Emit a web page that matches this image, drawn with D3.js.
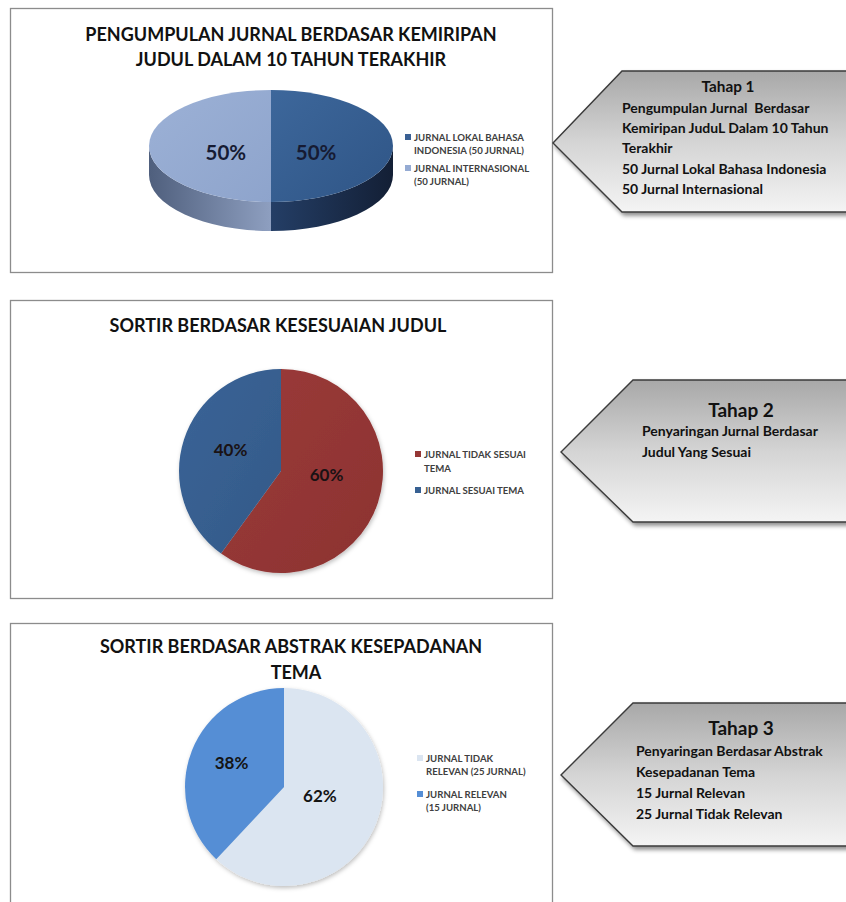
<!DOCTYPE html>
<html><head><meta charset="utf-8">
<script src="https://cdn.jsdelivr.net/npm/d3@7"></script>
<style>body{margin:0;background:#fff} svg{display:block} text{font-family:Lato,'Open Sans',sans-serif;font-weight:700}</style>
</head><body><svg id="c" width="846" height="902"></svg>
<script>
// ---------- data ----------
const chart1Title = ["PENGUMPULAN JURNAL BERDASAR KEMIRIPAN", "JUDUL DALAM 10 TAHUN TERAKHIR"];
const chart1Categories = ["JURNAL LOKAL BAHASA INDONESIA (50 JURNAL)", "JURNAL INTERNASIONAL (50 JURNAL)"];
const chart1Legend = [["JURNAL LOKAL BAHASA", "INDONESIA (50 JURNAL)"], ["JURNAL INTERNASIONAL", "(50 JURNAL)"]];
const chart1Values = [50, 50];

const chart2Title = ["SORTIR BERDASAR KESESUAIAN JUDUL"];
const chart2Categories = ["JURNAL TIDAK SESUAI TEMA", "JURNAL SESUAI TEMA"];
const chart2Legend = [["JURNAL TIDAK SESUAI", "TEMA"], ["JURNAL SESUAI TEMA"]];
const chart2Values = [60, 40];

const chart3Title = ["SORTIR BERDASAR ABSTRAK KESEPADANAN", "TEMA"];
const chart3Categories = ["JURNAL TIDAK RELEVAN (25 JURNAL)", "JURNAL RELEVAN (15 JURNAL)"];
const chart3Legend = [["JURNAL TIDAK", "RELEVAN (25 JURNAL)"], ["JURNAL RELEVAN", "(15 JURNAL)"]];
const chart3Values = [62, 38];

const tahap1Title = "Tahap 1";
const tahap1Lines = ["Pengumpulan Jurnal  Berdasar", "Kemiripan JuduL Dalam 10 Tahun", "Terakhir", "50 Jurnal Lokal Bahasa Indonesia", "50 Jurnal Internasional"];
const tahap2Title = "Tahap 2";
const tahap2Lines = ["Penyaringan Jurnal Berdasar", "Judul Yang Sesuai"];
const tahap3Title = "Tahap 3";
const tahap3Lines = ["Penyaringan Berdasar Abstrak", "Kesepadanan Tema", "15 Jurnal Relevan", "25 Jurnal Tidak Relevan"];

// ---------- drawing ----------
const svg = d3.select("#c");
const defs = svg.append("defs");

function linGrad(id, x1, y1, x2, y2, stops, user) {
  const g = defs.append("linearGradient").attr("id", id)
    .attr("x1", x1).attr("y1", y1).attr("x2", x2).attr("y2", y2);
  if (user) g.attr("gradientUnits", "userSpaceOnUse");
  stops.forEach(s => g.append("stop").attr("offset", s[0]).attr("stop-color", s[1]));
}
const sh = defs.append("filter").attr("id", "shadow").attr("x", "-10%").attr("y", "-10%").attr("width", "130%").attr("height", "130%");
sh.append("feDropShadow").attr("dx", 2).attr("dy", 3).attr("stdDeviation", 2).attr("flood-color", "#000").attr("flood-opacity", 0.45);
const sh2 = defs.append("filter").attr("id", "pshadow").attr("x", "-10%").attr("y", "-10%").attr("width", "130%").attr("height", "130%");
sh2.append("feDropShadow").attr("dx", 1).attr("dy", 2).attr("stdDeviation", 2).attr("flood-color", "#000").attr("flood-opacity", 0.25);

function frame(x, y, w, h) {
  svg.append("rect").attr("x", x + 0.5).attr("y", y + 0.5).attr("width", w).attr("height", h)
    .attr("fill", "#fff").attr("stroke", "#8c8c8c").attr("stroke-width", 1.3);
}
function title(lines, cx, y0, dy, size) {
  svg.append("g").selectAll("text").data(lines).join("text")
    .attr("x", (d, i) => cx[i]).attr("y", (d, i) => y0 + i * dy)
    .attr("text-anchor", "middle").attr("font-size", size).attr("fill", "#111")
    .text(d => d);
}
function legend(lines, colors, x, ys, lh) {
  const g = svg.append("g");
  const item = g.selectAll("g").data(lines).join("g").attr("transform", (d, i) => `translate(${x},${ys[i]})`);
  item.append("rect").attr("x", 0).attr("y", -7).attr("width", 6).attr("height", 6).attr("fill", (d, i) => colors[i]);
  item.selectAll("text").data(d => d).join("text")
    .attr("x", 9).attr("y", (d, j) => j * lh).attr("font-size", 9.6).attr("fill", "#404040")
    .text(d => d);
}

// chart 1 : 3D pie
frame(10, 8, 542, 264);
title(chart1Title, [291, 291], 41, 25, 18);
(function () {
  const cx = 271, cy = 146, rx = 122, ry = 56, depth = 29;
  const topColors = ["url(#c1a)", "url(#c1b)"];
  const sideColors = ["url(#s1a)", "url(#s1b)"];
  linGrad("c1a", 0, 0, 1, 1, [[0, "#3d679b"], [1, "#2f5586"]]);
  linGrad("c1b", 0, 0, 1, 1, [[0, "#9cb1d6"], [1, "#8ea4cc"]]);
  linGrad("s1a", cx, 0, cx + rx, 0, [[0, "#243e66"], [1, "#131f35"]], true);
  linGrad("s1b", cx - rx, 0, cx, 0, [[0, "#4f5f7d"], [1, "#8e9fc0"]], true);
  const arcs = d3.pie().sort(null).value(d => d)(chart1Values);
  const P = (t, off = 0) => [cx + rx * Math.sin(t), cy - ry * Math.cos(t) + off];
  const g = svg.append("g");
  arcs.forEach((a, i) => {
    const s0 = Math.max(a.startAngle, Math.PI / 2), s1 = Math.min(a.endAngle, 3 * Math.PI / 2);
    if (s0 < s1) {
      const p0 = P(s0), p1 = P(s1), q1 = P(s1, depth), q0 = P(s0, depth);
      g.append("path").attr("fill", sideColors[i])
        .attr("d", `M${p0}A${rx},${ry} 0 0 1 ${p1}L${q1}A${rx},${ry} 0 0 0 ${q0}Z`);
    }
  });
  arcs.forEach((a, i) => {
    const p0 = P(a.startAngle), p1 = P(a.endAngle);
    const large = a.endAngle - a.startAngle > Math.PI ? 1 : 0;
    g.append("path").attr("fill", topColors[i])
      .attr("d", `M${cx},${cy}L${p0}A${rx},${ry} 0 ${large} 1 ${p1}Z`);
  });
  arcs.forEach(a => {
    const m = (a.startAngle + a.endAngle) / 2;
    const p = [cx + rx * 0.37 * Math.sin(m), cy - ry * 0.37 * Math.cos(m) + 14];
    g.append("text").attr("x", p[0]).attr("y", p[1]).attr("text-anchor", "middle")
      .attr("font-size", 20.5).attr("fill", "#161b33").text(Math.round(a.value) + "%");
  });
  legend(chart1Legend, ["#3a6094", "#95abd3"], 405, [141, 172], 12.5);
})();

// flat pie (label placement factors kx, ky per slice, as Excel positions them)
function flatPie(values, colors, cx, cy, r, kx, ky, labelColor) {
  const arcs = d3.pie().sort(null).value(d => d)(values);
  const arc = d3.arc().innerRadius(0).outerRadius(r);
  const g = svg.append("g").attr("transform", `translate(${cx},${cy})`).attr("filter", "url(#pshadow)");
  g.selectAll("path").data(arcs).join("path").attr("d", arc).attr("fill", (d, i) => colors[i]);
  svg.append("g").attr("transform", `translate(${cx},${cy})`).selectAll("text").data(arcs).join("text")
    .attr("x", (d, i) => { const m = (d.startAngle + d.endAngle) / 2; return kx[i] * r * Math.sin(m); })
    .attr("y", (d, i) => { const m = (d.startAngle + d.endAngle) / 2; return -ky[i] * r * Math.cos(m) + 6; })
    .attr("text-anchor", "middle").attr("font-size", 17).attr("fill", labelColor)
    .text(d => d.value + "%");
}

// chart 2
frame(10, 300, 542, 298);
title(chart2Title, [278], 332, 0, 18);
linGrad("c2a", 0, 0, 1, 1, [[0, "#9b3b39"], [1, "#8c3231"]]);
linGrad("c2b", 0, 0, 1, 1, [[0, "#3b6497"], [1, "#335988"]]);
flatPie(chart2Values, ["url(#c2a)", "url(#c2b)"], 281, 471, 102, [0.47, 0.52], [0.13, 0.66], "#1a1214");
legend(chart2Legend, ["#953735", "#376092"], 415, [458, 494], 14);

// chart 3
frame(10, 623, 542, 300);
title(chart3Title, [291, 296], 653, 26, 18);
flatPie(chart3Values, ["#dbe5f1", "#558ed5"], 284, 787, 99, [0.39, 0.57], [0.25, 0.66], "#141414");
legend(chart3Legend, ["#dbe5f1", "#558ed5"], 417, [762, 798], 13);

// callouts
function callout(id, tip, xl, yt, yb, head, headPos, headSize, lines, lx, ly0, ldy) {
  linGrad(id, 0, 0, 0, 1, [[0, "#a8a8a8"], [0.5, "#d4d4d4"], [1, "#f4f4f4"]]);
  svg.append("path")
    .attr("d", `M${tip[0]},${tip[1]}L${xl},${yt}L${860},${yt}L${860},${yb}L${xl},${yb}Z`)
    .attr("fill", `url(#${id})`).attr("stroke", "#3a3a3a").attr("stroke-width", 1.4)
    .attr("filter", "url(#shadow)");
  svg.append("text").attr("x", headPos[0]).attr("y", headPos[1]).attr("text-anchor", "middle")
    .attr("font-size", headSize).attr("fill", "#111").text(head);
  svg.append("g").selectAll("text").data(lines).join("text")
    .attr("x", lx).attr("y", (d, i) => ly0 + i * ldy).attr("font-size", 14).attr("fill", "#111")
    .attr("xml:space", "preserve").style("white-space", "pre").text(d => d);
}
callout("g1", [553, 143], 622, 71, 212, tahap1Title, [728, 92], 15.3, tahap1Lines, 622, 113, 20.2);
callout("g2", [561, 452], 633, 380, 522, tahap2Title, [741, 417], 19, tahap2Lines, 642, 436, 21);
callout("g3", [561, 775], 633, 703, 846, tahap3Title, [741, 735], 19, tahap3Lines, 636, 756, 21);
</script></body></html>
